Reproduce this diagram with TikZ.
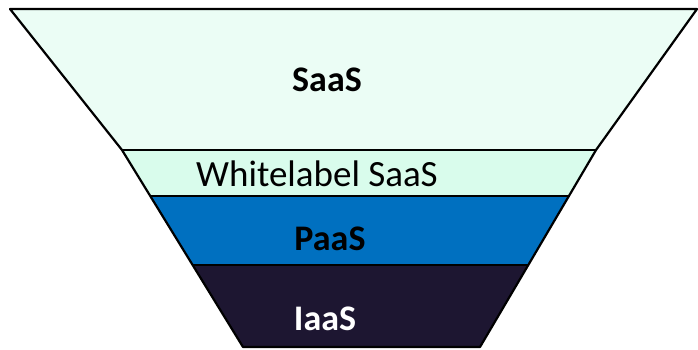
\documentclass[tikz,border=0pt]{standalone}
\usepackage{fontspec}
\setmainfont{Carlito}
\usetikzlibrary{calc}
\definecolor{saasfill}{RGB}{235,253,245}
\definecolor{whitefill}{RGB}{217,252,236}
\definecolor{paasfill}{RGB}{0,112,192}
\definecolor{iaasfill}{RGB}{29,22,49}

\begin{document}
\begin{tikzpicture}[x=1pt,y=-1pt,
    edge/.style={line width=2.2pt,line join=round},
    lbl/.style={anchor=base,font=\fontsize{36}{40}\selectfont\bfseries}]
    \useasboundingbox (0,0) rectangle (698,349);
    % corners of the funnel
    \coordinate (tl) at (10,9);
    \coordinate (tr) at (697,9);
    \coordinate (ml) at (122,150);
    \coordinate (mr) at (596,150);
    \coordinate (bl) at (243,347);
    \coordinate (br) at (480,347);
    \coordinate (wl) at ($(ml)!0.2335!(bl)$);
    \coordinate (wr) at ($(mr)!0.2335!(br)$);
    \coordinate (pl) at ($(ml)!0.5838!(bl)$);
    \coordinate (pr) at ($(mr)!0.5838!(br)$);
    % layers
    \fill[saasfill] (tl) -- (tr) -- (mr) -- (ml) -- cycle;
    \fill[whitefill] (ml) -- (mr) -- (wr) -- (wl) -- cycle;
    \fill[paasfill] (wl) -- (wr) -- (pr) -- (pl) -- cycle;
    \fill[iaasfill] (pl) -- (pr) -- (br) -- (bl) -- cycle;
    \draw[line width=1.2pt] (ml) -- (mr);
    \draw[line width=1.6pt] (wl) -- (wr);
    \draw[line width=1.6pt] (pl) -- (pr);
    \draw[edge] (tl) -- (tr) -- (mr) -- (br) -- (bl) -- (ml) -- cycle;
    % labels
    \node[lbl] (saas) at (327,91) {SaaS};
    \node[anchor=base,font=\fontsize{37}{40}\selectfont] (white) at (317,186) {Whitelabel SaaS};
    \node[lbl] (paas) at (330,250) {PaaS};
    \node[lbl,text=white] (iaas) at (325,330) {IaaS};
\end{tikzpicture}
\end{document}
